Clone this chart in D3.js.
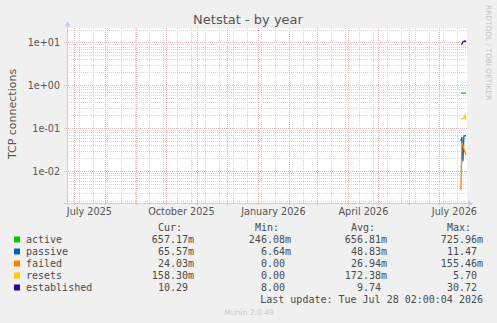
<!DOCTYPE html>
<html>
<head>
<meta charset="utf-8">
<script src="https://cdn.jsdelivr.net/npm/d3@7"></script>
<style>
  body { margin: 0; background: #f0f0f0; }
  svg { display: block; }
  text { font-family: "DejaVu Sans", sans-serif; fill: #555; }
  .mono { font-family: "DejaVu Sans Mono", monospace; font-size: 10px; fill: #4a4a4a; }
</style>
</head>
<body>
<div id="chart"></div>
<script>

// data
var dates = ["2026-07-23", "2026-07-24", "2026-07-25", "2026-07-26", "2026-07-27", "2026-07-28"];
var active      = [0.66, 0.66, 0.66, 0.66, 0.66, 0.657];
var passive     = [0.05, 0.062, 0.017, 0.066, 0.067, 0.0656];
var failed      = [0.0036, 0.045, 0.042, 0.033, 0.028, 0.024];
var resets      = [0.165, 0.165, 0.165, 0.17, 0.2, 0.158];
var established = [9.1, 9.2, 10.3, 10.6, 10.9, 10.29];

var names  = ["active", "passive", "failed", "resets", "established"];
var colors = ["#00cc00", "#0066b3", "#ff8000", "#ffcc00", "#330099"];
var curVals = ["657.17m", "65.57m", "24.03m", "158.30m", "10.29"];
var minVals = ["246.08m", "6.64m", "0.00", "0.00", "8.00"];
var avgVals = ["656.81m", "48.83m", "26.94m", "172.38m", "9.74"];
var maxVals = ["725.96m", "11.47", "155.46m", "5.70", "30.72"];

var yTicks = [0.01, 0.1, 1, 10];
var yTickLabels = ["1e-02", "1e-01", "1e+00", "1e+01"];
var xLabelDates = ["2025-07-16", "2025-10-16", "2026-01-16", "2026-04-16", "2026-07-16"];
var xLabels = ["July 2025", "October 2025", "January 2026", "April 2026", "July 2026"];

// setup dimensions
var W = 497, H = 323,
  pL = 67, pR = 467, pT = 28, pB = 203;

var svg = d3.select("#chart").append("svg")
  .attr("width", W)
  .attr("height", H);

var parse = d3.timeParse("%Y-%m-%d");

// setup scales
var x = d3.scaleTime()
  .domain([new Date(2025, 5, 24, 2), new Date(2026, 6, 29, 2)])
  .range([pL, pR]);
var y = d3.scaleLog()
  .domain([0.0018, 21.7])
  .range([pB, pT]);

// canvas
svg.append("rect")
  .attr("x", pL).attr("y", pT)
  .attr("width", pR - pL).attr("height", pB - pT)
  .attr("fill", "#fff");

// minor y grid
var minorY = [];
[0.001, 0.01, 0.1, 1, 10].forEach(function(d) {
  for (var k = 2; k < 10; k++) {
    var v = d * k;
    if (v > y.domain()[0] && v < y.domain()[1]) minorY.push(v);
  }
});
svg.selectAll("line.minor-y")
  .data(minorY)
  .enter().append("line")
  .attr("x1", pL).attr("x2", pR)
  .attr("y1", function(d) { return Math.round(y(d)) + 0.5; })
  .attr("y2", function(d) { return Math.round(y(d)) + 0.5; })
  .attr("stroke", "#d6d6d6")
  .attr("stroke-dasharray", "1,1");

// minor x grid, every other sunday
var minorX = d3.timeDay.range(new Date(2025, 6, 6), x.domain()[1], 14);
svg.selectAll("line.minor-x")
  .data(minorX)
  .enter().append("line")
  .attr("x1", function(d) { return Math.round(x(d)) + 0.5; })
  .attr("x2", function(d) { return Math.round(x(d)) + 0.5; })
  .attr("y1", pT).attr("y2", pB)
  .attr("stroke", "#d6d6d6")
  .attr("stroke-dasharray", "1,1");

// major grids
var majorColor = "#e2b6b6";
svg.selectAll("line.major-y")
  .data(yTicks)
  .enter().append("line")
  .attr("x1", pL - 3).attr("x2", pR)
  .attr("y1", function(d) { return Math.round(y(d)) + 0.5; })
  .attr("y2", function(d) { return Math.round(y(d)) + 0.5; })
  .attr("stroke", majorColor)
  .attr("stroke-dasharray", "1,1");

var months = d3.timeMonth.range(d3.timeMonth.ceil(x.domain()[0]), x.domain()[1]);
svg.selectAll("line.major-x")
  .data(months)
  .enter().append("line")
  .attr("x1", function(d) { return Math.round(x(d)) + 0.5; })
  .attr("x2", function(d) { return Math.round(x(d)) + 0.5; })
  .attr("y1", pT).attr("y2", pB + 3)
  .attr("stroke", majorColor)
  .attr("stroke-dasharray", "1,1");

// axes lines + arrows
var axisColor = "#c8cbee";
svg.append("line")
  .attr("x1", pL + 0.5).attr("x2", pL + 0.5)
  .attr("y1", pB + 2).attr("y2", pT - 3)
  .attr("stroke", axisColor);
svg.append("line")
  .attr("x1", pL - 3).attr("x2", pR + 1)
  .attr("y1", pB + 0.5).attr("y2", pB + 0.5)
  .attr("stroke", axisColor);
svg.append("path")
  .attr("d", "M" + (pL - 2.5) + "," + (pT - 1.5) + "L" + (pL + 0.5) + "," + (pT - 6.5) + "L" + (pL + 3.5) + "," + (pT - 1.5) + "Z")
  .attr("fill", axisColor);
svg.append("path")
  .attr("d", "M" + (pR + 1) + "," + (pB - 2.5) + "L" + (pR + 6) + "," + (pB + 0.5) + "L" + (pR + 1) + "," + (pB + 3.5) + "Z")
  .attr("fill", axisColor);

// y axis labels
var yAxis = svg.append("g")
  .attr("transform", "translate(" + (pL - 7) + ",0)")
  .call(d3.axisLeft(y).tickValues(yTicks).tickSize(0)
    .tickFormat(function(d, i) { return yTickLabels[i]; }));
yAxis.select(".domain").remove();
yAxis.selectAll("text")
  .attr("x", 0)
  .style("font-family", "DejaVu Sans")
  .style("font-size", "9.6px")
  .style("fill", "#555");

// x axis labels
var xAxis = svg.append("g")
  .attr("transform", "translate(0," + pB + ")")
  .call(d3.axisBottom(x).tickValues(xLabelDates.map(parse)).tickSize(0)
    .tickFormat(function(d, i) { return xLabels[i]; }));
xAxis.select(".domain").remove();
xAxis.selectAll("text")
  .attr("y", 12)
  .attr("dy", 0)
  .style("font-family", "DejaVu Sans")
  .style("font-size", "9.7px")
  .style("fill", "#555");

// series lines
var series = [active, passive, failed, resets, established];
var line = d3.line()
  .x(function(d, i) { return x(parse(dates[i])); })
  .y(function(d) { return y(d); });
svg.selectAll("path.series")
  .data(series)
  .enter().append("path")
  .attr("class", "series")
  .attr("d", line)
  .attr("fill", "none")
  .attr("stroke", function(d, i) { return colors[i]; })
  .attr("stroke-width", 1.3);

// title
svg.append("text")
  .attr("x", 248).attr("y", 24)
  .attr("text-anchor", "middle")
  .style("font-size", "13px")
  .text("Netstat - by year");

// y label
svg.append("text")
  .attr("transform", "translate(16,114) rotate(-90)")
  .attr("text-anchor", "middle")
  .style("font-size", "11px")
  .text("TCP connections");

// watermark
svg.append("text")
  .attr("transform", "translate(486,5) rotate(90)")
  .style("font-size", "7.4px")
  .style("fill", "#c4c4c4")
  .text("RRDTOOL / TOBI OETIKER");

// legend
var colEnds = [194, 291, 387, 483],
  headers = ["Cur:", "Min:", "Avg:", "Max:"],
  cols = [curVals, minVals, avgVals, maxVals],
  rowY = function(i) { return 239.5 + i * 12; };

headers.forEach(function(h, c) {
  svg.append("text").attr("class", "mono")
    .attr("x", colEnds[c] - 12).attr("y", 227.5 + 3.5)
    .attr("text-anchor", "end")
    .text(h);
});

var rows = svg.selectAll("g.legend")
  .data(names)
  .enter().append("g")
  .attr("class", "legend");
rows.append("rect")
  .attr("x", 14).attr("y", function(d, i) { return rowY(i) - 3; })
  .attr("width", 6).attr("height", 6)
  .attr("fill", function(d, i) { return colors[i]; });
rows.append("text").attr("class", "mono")
  .attr("x", 26).attr("y", function(d, i) { return rowY(i) + 3.5; })
  .text(function(d) { return d; });
cols.forEach(function(vals, c) {
  rows.append("text").attr("class", "mono")
    .attr("x", function(d, i) { return /m$/.test(vals[i]) ? colEnds[c] : colEnds[c] - 6; })
    .attr("y", function(d, i) { return rowY(i) + 3.5; })
    .attr("text-anchor", "end")
    .text(function(d, i) { return vals[i]; });
});

svg.append("text").attr("class", "mono")
  .attr("x", 483).attr("y", rowY(5) + 3.5)
  .attr("text-anchor", "end")
  .text("Last update: Tue Jul 28 02:00:04 2026");

svg.append("text")
  .attr("x", 249).attr("y", 314.5)
  .attr("text-anchor", "middle")
  .style("font-size", "7.6px")
  .style("fill", "#c8c8c8")
  .text("Munin 2.0.49");

</script>
</body>
</html>
